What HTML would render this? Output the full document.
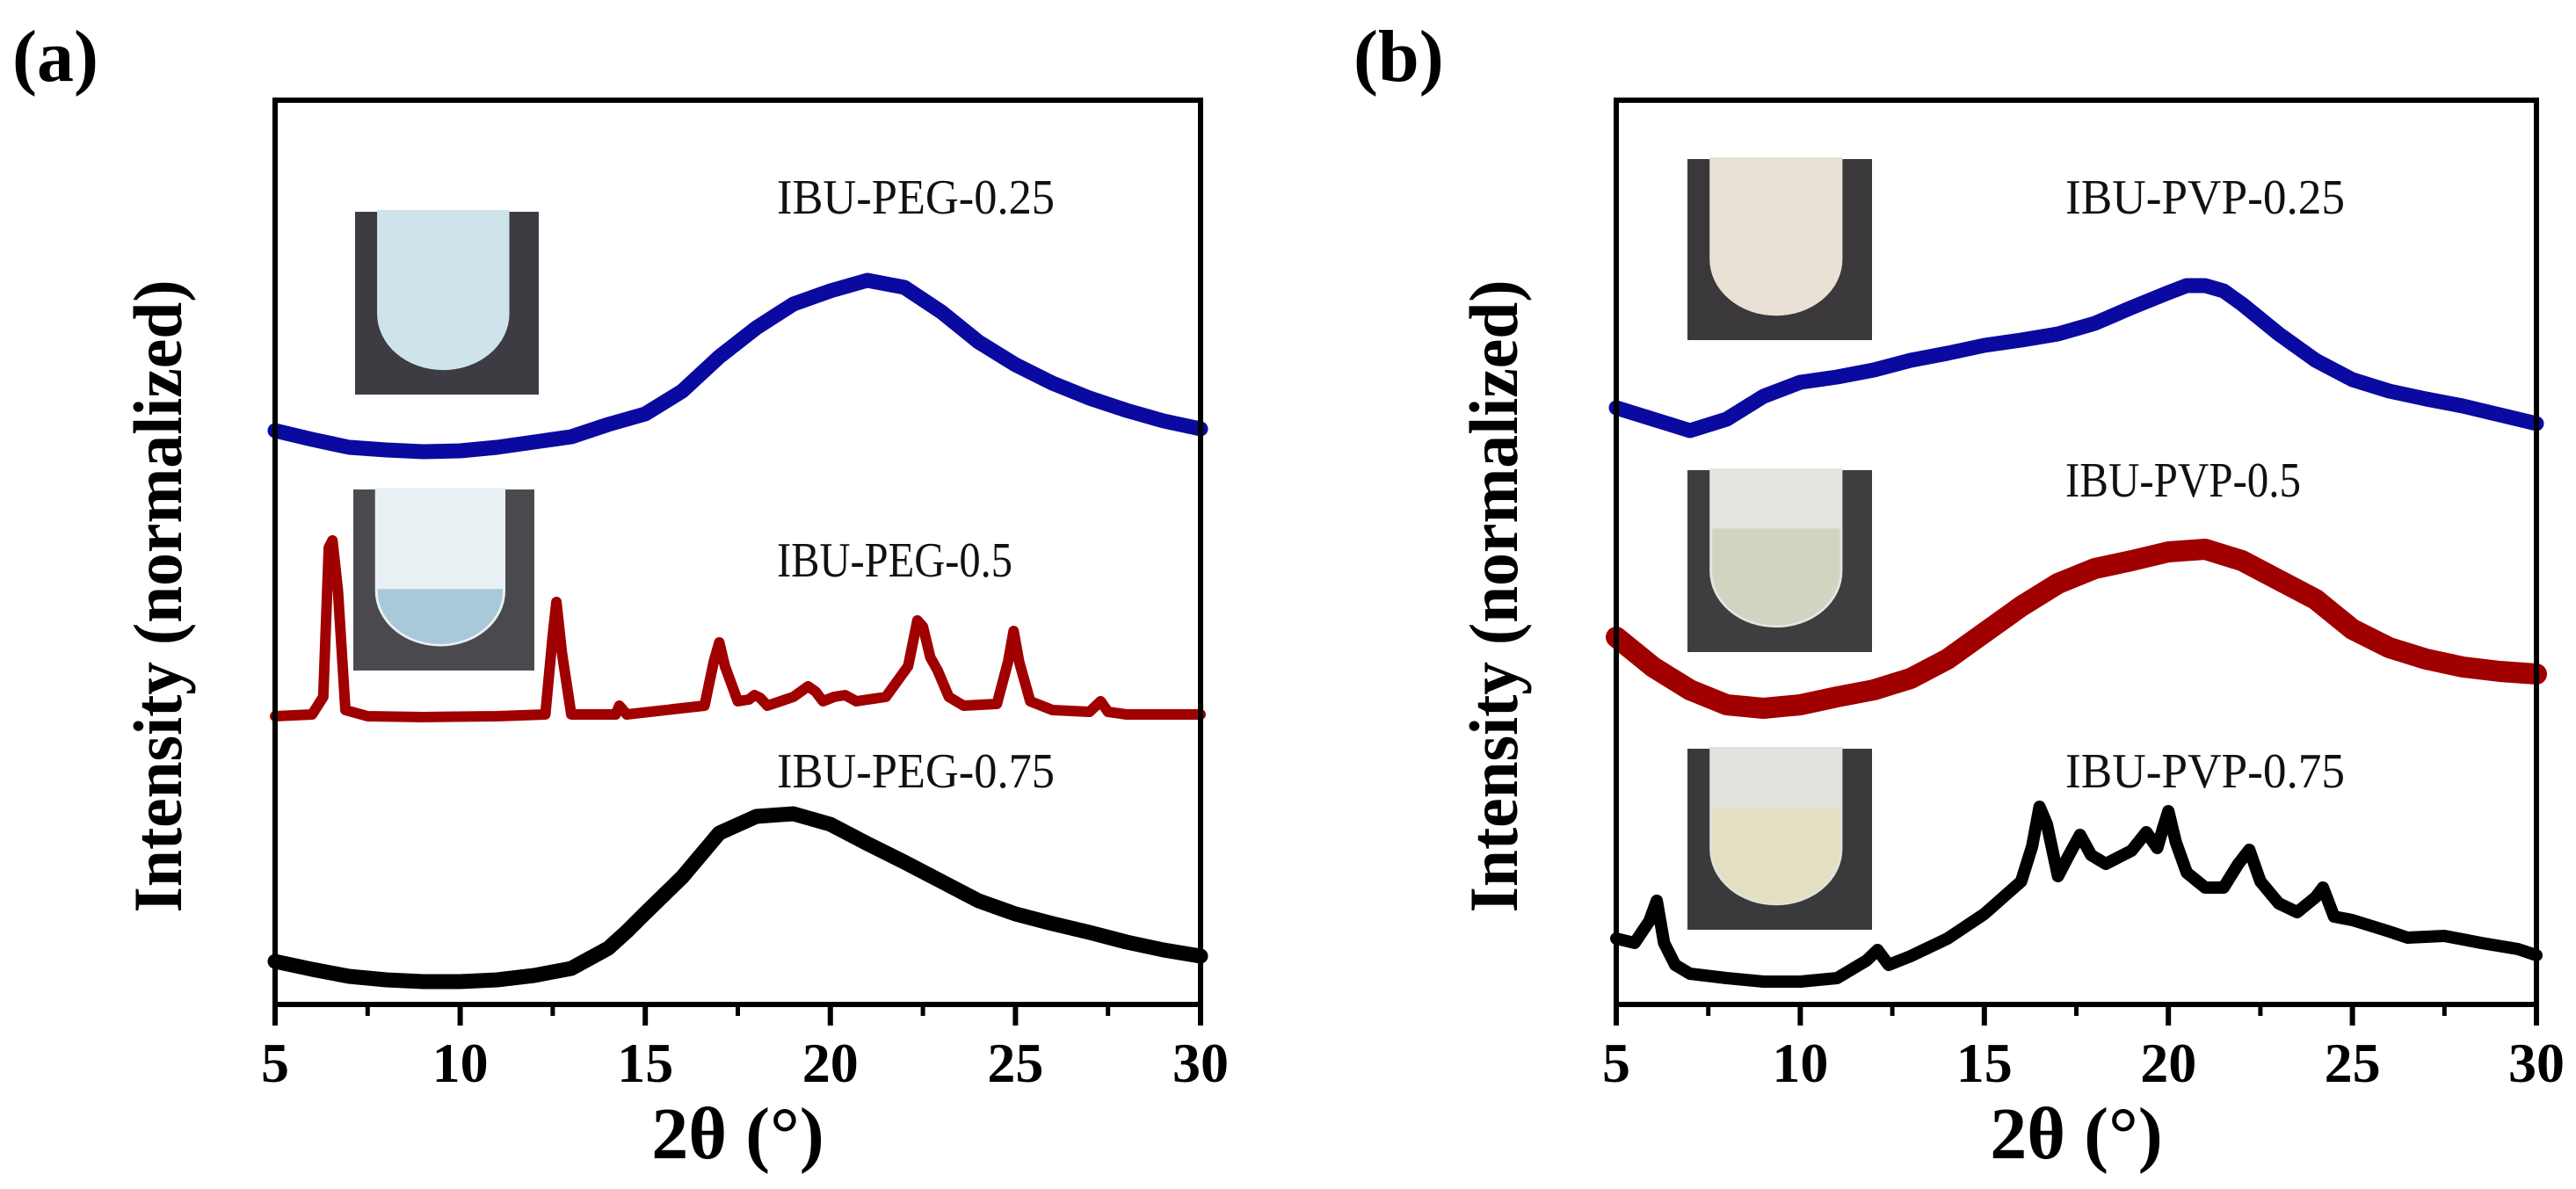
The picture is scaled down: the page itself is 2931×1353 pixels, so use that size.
<!DOCTYPE html>
<html><head><meta charset="utf-8"><style>
html,body{margin:0;padding:0;background:#fff;}
svg{display:block;}
text{font-family:"Liberation Serif","Times New Roman",serif;}
</style></head><body>
<svg id="fig" width="2931" height="1353" viewBox="0 0 2931 1353" xmlns="http://www.w3.org/2000/svg">
<rect width="2931" height="1353" fill="#fff"/>
<g id="panelA"></g>
<g id="panelB"></g>
</svg>
<script>
// Data: 2θ (degrees) and intensity (a.u., normalized & offset for stacking)
const xTicks = [5,10,15,20,25,30];
const xMinor = [7.5,12.5,17.5,22.5,27.5];
const tickLabels = ["5","10","15","20","25","30"];

const pegA_x = [5,6,7,8,9,10,11,12,13,14,15,16,17,18,19,20,21,22,23,24,25,26,27,28,29,30];
const pegA_y = [653,643,634,631,629,630,634,640,646,660,672,698,737,770,797,812,824,816,788,754,728,707,690,676,664,655];

const pegB_x = [5,6,6.3,6.45,6.55,6.7,6.9,7.5,9,11,12.3,12.5,12.6,12.75,13,14.2,14.3,14.5,16.6,16.85,17.0,17.15,17.5,17.8,17.95,18.1,18.3,19,19.4,19.6,19.8,20.1,20.4,20.7,21.5,22.1,22.35,22.5,22.7,22.9,23.2,23.6,24.5,24.8,24.95,25.1,25.4,26,27,27.3,27.5,28,30];
const pegB_y = [328,330,350,520,528,470,335,328,327,328,330,420,458,400,330,330,340,330,340,390,412,385,345,347,352,349,340,350,362,356,345,350,352,345,350,385,437,430,395,380,350,340,342,390,425,390,345,335,333,345,333,330,330];

const pegC_x = [5,6,7,8,9,10,11,12,13,14,14.5,15,16,17,18,19,20,21,22,23,24,25,26,27,28,29,30];
const pegC_y = [49,40,32,28,26,26,28,33,41,64,83,104,145,195,214,217,205,183,162,140,118,103,92,82,71,62,55];

const pvpA_x = [5,6,7,8,9,10,11,12,13,14,15,16,17,18,19,20,20.5,21,21.5,22,23,24,25,26,27,28,29,30];
const pvpA_y = [679,666,653,666,692,708,714,722,733,741,750,756,763,775,793,810,818,818,812,797,763,733,711,698,689,681,671,661];

const pvpB_x = [5,6,7,8,9,10,11,12,13,14,15,16,17,18,19,20,21,22,23,24,25,26,27,28,29,30];
const pvpB_y = [418,384,358,341,337,341,350,358,371,393,423,453,479,496,505,515,518,505,483,461,427,406,393,384,379,376];

const pvpC_x = [5,5.5,5.9,6.1,6.3,6.6,7,8,9,10,11,11.8,12.1,12.4,13,14,15,16,16.3,16.5,16.7,17.0,17.3,17.6,17.9,18.3,19,19.4,19.7,19.85,20.0,20.2,20.5,21,21.5,21.9,22.2,22.5,23,23.5,24.0,24.2,24.5,25,26,26.5,27.5,28.5,29.5,30];
const pvpC_y = [75,70,95,118,70,45,35,30,26,26,30,50,62,45,55,75,103,140,180,225,205,146,170,193,170,160,175,196,178,200,220,185,150,133,133,160,176,140,115,105,122,133,100,96,83,76,78,70,63,56];

// Layout
const Y_MAX = 1029; // intensity domain 0..Y_MAX
const NS = "http://www.w3.org/2000/svg";
function mk(tag, attrs, parent){
  const e = document.createElementNS(NS, tag);
  for (const k in attrs) e.setAttribute(k, attrs[k]);
  parent.appendChild(e);
  return e;
}

function drawPanel(g, cfg){
  const L = cfg.left, R = cfg.right, T = 114, B = 1143;
  const xs = v => L + (v - 5) / 25 * (R - L);
  const ys = v => B - v / Y_MAX * (B - T);

  cfg.insets.forEach((ins, i) => {
    const ig = mk('g', {}, g);
    
    
    mk('rect', {x: ins.x, y: ins.y, width: ins.w, height: ins.h, fill: ins.bg}, ig);
    const tx = ins.x + ins.w * 0.12, tw = ins.w * 0.72, ty = ins.y - 2, th = ins.h * 0.93;
    const r = tw / 2;
    mk('path', {d: `M${tx},${ty} L${tx+tw},${ty} L${tx+tw},${ty+th-r} A${r},${r*0.85} 0 0 1 ${tx},${ty+th-r} Z`, fill: ins.tube}, ig);
    if (ins.fill) {
      const fy = ins.y + ins.h * ins.fillTop;
      mk('path', {d: `M${tx+3},${fy} L${tx+tw-3},${fy} L${tx+tw-3},${ty+th-r} A${r-3},${(r-3)*0.85} 0 0 1 ${tx+3},${ty+th-r} Z`, fill: ins.fill}, ig);
    }
  });

  cfg.series.forEach(s => {
    let d = '';
    s.x.forEach((v, i) => { d += (i ? 'L' : 'M') + xs(v).toFixed(1) + ',' + ys(s.y[i]).toFixed(1); });
    const p = mk('path', {d: d, fill: 'none', stroke: s.color, 'stroke-width': s.w, 'stroke-linejoin': 'round', 'stroke-linecap': 'round'}, g);
    
    
    const t = mk('text', {x: cfg.labelX, y: s.ly, 'font-size': 56, fill: '#111', textLength: s.tl, lengthAdjust: 'spacingAndGlyphs'}, g);
    t.textContent = s.label;
    
    
  });

  const fr = mk('rect', {x: L, y: T, width: R - L, height: B - T, fill: 'none', stroke: '#000', 'stroke-width': 6}, g);
  
  

  xTicks.forEach((v, i) => {
    const tk = mk('line', {x1: xs(v), x2: xs(v), y1: B, y2: B + 24, stroke: '#000', 'stroke-width': 6}, g);
    
    
    const tl = mk('text', {x: xs(v), y: B + 88, 'font-size': 64, 'font-weight': 'bold', 'text-anchor': 'middle'}, g);
    tl.textContent = tickLabels[i];
    
    
  });
  xMinor.forEach(v => {
    const tk = mk('line', {x1: xs(v), x2: xs(v), y1: B, y2: B + 13, stroke: '#000', 'stroke-width': 5}, g);
    
    
  });

  const xt = mk('text', {x: (L + R) / 2, y: 1318, 'font-size': 84, 'font-weight': 'bold', 'text-anchor': 'middle'}, g);
  xt.textContent = '2θ (°)';
  
  

  const yt = mk('text', {x: 0, y: 0, 'font-size': 78, 'font-weight': 'bold', 'text-anchor': 'middle', textLength: 720, lengthAdjust: 'spacingAndGlyphs', transform: `translate(${cfg.yTitleX},${(T + B) / 2 + 50}) rotate(-90)`}, g);
  yt.textContent = 'Intensity (normalized)';
  
  

  const pl = mk('text', {x: cfg.tagX, y: 92, 'font-size': 84, 'font-weight': 'bold'}, g);
  pl.textContent = cfg.tag;
  
  
}

drawPanel(document.getElementById('panelA'), {
  left: 313, right: 1366, labelX: 884, yTitleX: 206, tagX: 14, tag: '(a)',
  insets: [
    {x: 404, y: 241, w: 209, h: 208, bg: '#3d3c42', tube: '#cfe3ea'},
    {x: 402, y: 557, w: 206, h: 206, bg: '#4a4a4e', tube: '#e8f0f4', fill: '#a9c8d8', fillTop: 0.55}
  ],
  series: [
    {x: pegA_x, y: pegA_y, color: '#0a0aa0', w: 17, name: 'series-ibu-peg-0.25', label: 'IBU-PEG-0.25', ly: 243, tl: 316},
    {x: pegB_x, y: pegB_y, color: '#a00000', w: 12, name: 'series-ibu-peg-0.5', label: 'IBU-PEG-0.5', ly: 656, tl: 268},
    {x: pegC_x, y: pegC_y, color: '#000000', w: 17, name: 'series-ibu-peg-0.75', label: 'IBU-PEG-0.75', ly: 896, tl: 316}
  ]
});

drawPanel(document.getElementById('panelB'), {
  left: 1839, right: 2886, labelX: 2350, yTitleX: 1726, tagX: 1540, tag: '(b)',
  insets: [
    {x: 1920, y: 181, w: 210, h: 206, bg: '#3a383a', tube: '#e9e0d6'},
    {x: 1920, y: 535, w: 210, h: 207, bg: '#3e3e40', tube: '#e6e4de', fill: '#d2d4c2', fillTop: 0.32},
    {x: 1920, y: 852, w: 210, h: 206, bg: '#3a3a3c', tube: '#e2e2dc', fill: '#e3dfc0', fillTop: 0.33}
  ],
  series: [
    {x: pvpA_x, y: pvpA_y, color: '#0a0aa0', w: 17, name: 'series-ibu-pvp-0.25', label: 'IBU-PVP-0.25', ly: 243, tl: 318},
    {x: pvpB_x, y: pvpB_y, color: '#a00000', w: 24, name: 'series-ibu-pvp-0.5', label: 'IBU-PVP-0.5', ly: 565, tl: 268},
    {x: pvpC_x, y: pvpC_y, color: '#000000', w: 14, name: 'series-ibu-pvp-0.75', label: 'IBU-PVP-0.75', ly: 896, tl: 318}
  ]
});
</script>
</body></html>
